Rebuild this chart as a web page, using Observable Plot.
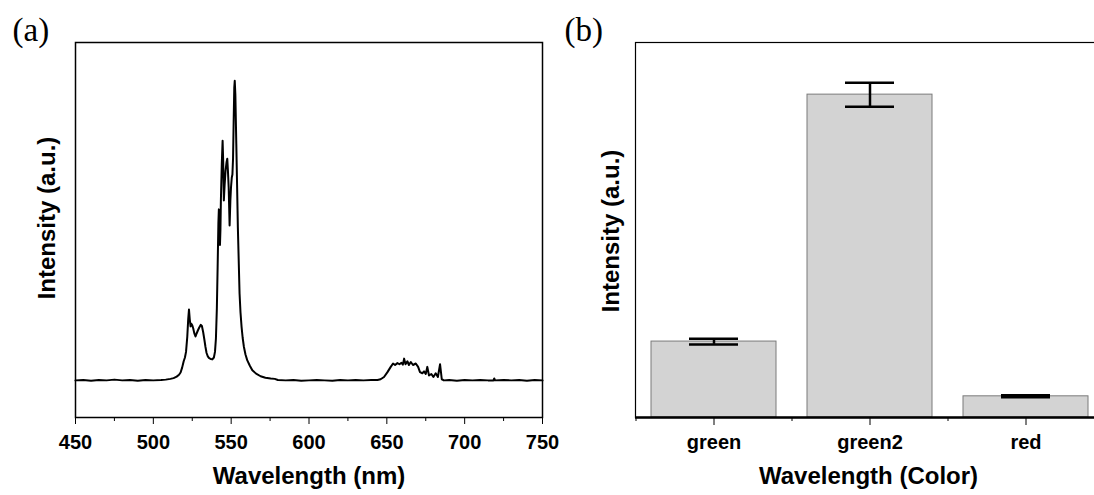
<!DOCTYPE html>
<html>
<head>
<meta charset="utf-8">
<script src="https://cdn.jsdelivr.net/npm/d3@7"></script>
<script src="https://cdn.jsdelivr.net/npm/@observablehq/plot@0.6"></script>
<style>
  html, body { margin: 0; padding: 0; background: white; overflow: hidden; }
  #wrap { position: relative; width: 1094px; height: 495px; overflow: hidden; background: white; }
  #left, #right { position: absolute; top: 0; }
  #left { left: 0; width: 560px; }
  #right { left: 560px; width: 543px; }
  #wrap svg { max-width: none !important; }
</style>
</head>
<body>
<div id="wrap"><div id="left"></div><div id="right"></div></div>
<script>
// ---- Panel (a): emission spectrum ----
const wavelengths = [
  450, 455, 460, 465, 470, 475, 480, 485, 490, 495, 500, 505, 508, 511, 513, 515, 516.5, 517.5, 518.5, 519.5,
  520.3, 521, 521.8, 522.4, 522.9, 523.4, 523.9, 524.4, 525, 525.6, 526.3, 527.1, 527.8, 528.6, 529.5, 530.5,
  531.2, 532, 532.7, 533.5, 534.2, 535, 535.7, 536.8, 537.9, 538.9, 539.6, 540.2, 540.8, 541.3, 541.8, 542.1,
  542.5, 542.8, 543.1, 543.4, 544, 544.5, 544.9, 545.3, 545.8, 546.4, 547, 547.5, 547.9, 548.4, 549, 549.5,
  549.9, 550.4, 550.8, 551.2, 551.6, 552, 552.3, 552.7, 553.3, 553.8, 554.3, 554.9, 555.4, 556, 556.7, 557.4,
  558.2, 559.2, 560.3, 562, 563.6, 566, 568.9, 572, 575.4, 578, 580, 585, 590, 595, 600, 605, 610, 615, 620,
  625, 630, 635, 640, 644, 646, 648.2, 650.4, 652.5, 654, 655.3, 656.8, 658.1, 659.4, 660.3, 661.1, 662, 663.2,
  664.2, 665.4, 666.8, 668.6, 670.1, 671.3, 672.8, 673.9, 675, 676, 677.1, 678.6, 679.9, 681.4, 682.8, 684.2,
  685.3, 686.7, 690, 695, 700, 705, 710, 715, 718.5, 719, 719.5, 725, 730, 735, 740, 745, 750
];
const intensities = [
  0.099, 0.100, 0.098, 0.100, 0.099, 0.101, 0.099, 0.100, 0.098, 0.100, 0.099, 0.100, 0.101, 0.103, 0.105, 0.109, 0.114, 0.120, 0.133, 0.150,
  0.160, 0.175, 0.215, 0.262, 0.288, 0.262, 0.243, 0.250, 0.246, 0.238, 0.225, 0.216, 0.224, 0.232, 0.240, 0.247,
  0.244, 0.228, 0.210, 0.188, 0.172, 0.163, 0.159, 0.156, 0.155, 0.160, 0.175, 0.210, 0.290, 0.400, 0.520, 0.555,
  0.552, 0.460, 0.500, 0.580, 0.680, 0.738, 0.680, 0.579, 0.620, 0.658, 0.680, 0.690, 0.660, 0.614, 0.512, 0.580,
  0.614, 0.640, 0.648, 0.690, 0.790, 0.880, 0.898, 0.860, 0.730, 0.620, 0.507, 0.410, 0.330, 0.280, 0.241, 0.212,
  0.188, 0.168, 0.153, 0.138, 0.126, 0.117, 0.110, 0.106, 0.104, 0.103, 0.100, 0.099, 0.100, 0.098, 0.099, 0.100, 0.099, 0.098, 0.100,
  0.099, 0.100, 0.099, 0.100, 0.100, 0.102, 0.108, 0.121, 0.135, 0.144, 0.140, 0.145, 0.142, 0.146, 0.141, 0.157, 0.142, 0.150,
  0.140, 0.148, 0.140, 0.144, 0.135, 0.121, 0.118, 0.123, 0.116, 0.135, 0.112, 0.116, 0.108, 0.118, 0.108, 0.142,
  0.102, 0.099, 0.100, 0.098, 0.100, 0.099, 0.100, 0.099, 0.099, 0.104, 0.099, 0.100, 0.099, 0.100, 0.098, 0.100, 0.099
];
const xMajorTicks = [450, 500, 550, 600, 650, 700, 750];
const xMinorTicks = [475, 525, 575, 625, 675, 725];

// ---- Panel (b): bar chart ----
const categories = ["green", "green2", "red"];
const barValues = [0.2025, 0.861, 0.0565];
const barErrors = [0.0075, 0.032, 0.0027];

const spectrum = wavelengths.map((w, i) => ({w, v: intensities[i]}));
const bars = categories.map((c, i) => ({c, v: barValues[i], lo: barValues[i] - barErrors[i], hi: barValues[i] + barErrors[i]}));

const sans = "'Liberation Sans', Arial, sans-serif";
const serif = "'Liberation Serif', 'Times New Roman', serif";

const left = Plot.plot({
  width: 560, height: 495,
  marginLeft: 75, marginRight: 18, marginTop: 42, marginBottom: 78,
  x: {domain: [450, 750]},
  y: {domain: [0, 1], axis: null},
  style: {fontFamily: sans, fontSize: "20px", fontWeight: "bold", background: "white", color: "black"},
  marks: [
    Plot.line(spectrum, {x: "w", y: "v", stroke: "black", strokeWidth: 2}),
    Plot.frame({stroke: "black", strokeWidth: 1.5}),
    Plot.axisX({ticks: xMajorTicks, tickSize: 7, tickPadding: 10, fontSize: 20, fontWeight: "bold", label: null, tickFormat: d => String(d), stroke: "black", fill: "black"}),
    Plot.axisX({ticks: xMinorTicks, tickSize: 4, label: null, tickFormat: () => "", stroke: "black"}),
    Plot.text(["Intensity (a.u.)"], {text: d => d, frameAnchor: "left", textAnchor: "middle", lineAnchor: "middle", rotate: -90, dx: -28, dy: -12, fontSize: 24, fontWeight: "bold", fill: "black"}),
    Plot.text(["Wavelength (nm)"], {text: d => d, frameAnchor: "bottom", textAnchor: "middle", lineAnchor: "middle", dy: 59, fontSize: 24, fontWeight: "bold", fill: "black"}),
    Plot.text(["(a)"], {text: d => d, frameAnchor: "top-left", textAnchor: "start", lineAnchor: "middle", dx: -63, dy: -12.5, fontSize: 33, fontWeight: "normal", fontFamily: serif, fill: "black"})
  ]
});

const right = Plot.plot({
  width: 543, height: 495,
  marginLeft: 75, marginRight: 0, marginTop: 42, marginBottom: 78,
  x: {domain: categories, paddingInner: 0.2, paddingOuter: 0.1},
  y: {domain: [0, 1], axis: null},
  style: {fontFamily: sans, fontSize: "20px", fontWeight: "bold", background: "white", color: "black"},
  marks: [
    Plot.barY(bars, {x: "c", y: "v", fill: "#d3d3d3", stroke: "#7a7a7a", strokeWidth: 1}),
    Plot.ruleX(bars, {x: "c", y1: "lo", y2: "hi", stroke: "black", strokeWidth: 2.5}),
    Plot.tickY(bars, {x: "c", y: "lo", insetLeft: 38, insetRight: 38, stroke: "black", strokeWidth: 2.5}),
    Plot.tickY(bars, {x: "c", y: "hi", insetLeft: 38, insetRight: 38, stroke: "black", strokeWidth: 2.5}),
    Plot.frame({stroke: "black", strokeWidth: 1.2}),
    Plot.ruleY([0], {stroke: "black", strokeWidth: 2.5}),
    Plot.axisX({tickSize: 8, tickPadding: 9, fontSize: 20, fontWeight: "bold", label: null, stroke: "black", fill: "black"}),
    Plot.axisX({ticks: categories, tickSize: 4, dx: -78, label: null, tickFormat: () => "", stroke: "black"}),
    Plot.axisX({ticks: ["red"], tickSize: 4, dx: 78, label: null, tickFormat: () => "", stroke: "black"}),
    Plot.text(["Intensity (a.u.)"], {text: d => d, frameAnchor: "left", textAnchor: "middle", lineAnchor: "middle", rotate: -90, dx: -24, dy: 1, fontSize: 24, fontWeight: "bold", fill: "black"}),
    Plot.text(["Wavelength (Color)"], {text: d => d, frameAnchor: "bottom", textAnchor: "middle", lineAnchor: "middle", dy: 59, dx: -1, fontSize: 24, fontWeight: "bold", fill: "black"}),
    Plot.text(["(b)"], {text: d => d, frameAnchor: "top-left", textAnchor: "start", lineAnchor: "middle", dx: -71, dy: -12.5, fontSize: 33, fontWeight: "normal", fontFamily: serif, fill: "black"})
  ]
});

document.getElementById("left").appendChild(left);
document.getElementById("right").appendChild(right);
</script>
</body>
</html>
